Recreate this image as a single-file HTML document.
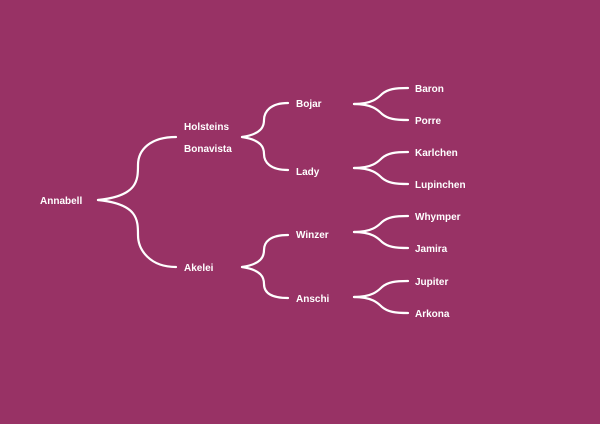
<!DOCTYPE html>
<html><head><meta charset="utf-8"><style>
html,body{margin:0;padding:0;background:#983265;}
svg{display:block}
text{font-family:"Liberation Sans",sans-serif;font-weight:bold;font-size:10px;fill:#fff;}
path{fill:none;stroke:#fff;stroke-width:2.2;stroke-linecap:round}
</style></head><body>
<svg width="600" height="424" viewBox="0 0 600 424" xmlns="http://www.w3.org/2000/svg">
<rect width="600" height="424" fill="#983265"/>
<!-- level 1 -->
<path d="M98,200 C138,196 138,180 138,165 C138,150 150,137 176,137"/>
<path d="M98,200 C138,204 138,220 138,235 C138,250 150,267 176,267"/>
<!-- level 2 -->
<path d="M242,137 C262,134 264,126 264,120 C264,112 270,103 288,103"/>
<path d="M242,137 C262,140 264,148 264,154 C264,162 270,170 288,170"/>
<path d="M242,267 C262,264 264,256 264,250 C264,242 270,235 288,235"/>
<path d="M242,267 C262,270 264,278 264,284 C264,292 270,298 288,298"/>
<!-- level 3 -->
<path d="M354,104 C372,104 378,98 382,94 C388,89 395,88 408,88"/>
<path d="M354,104 C372,104 378,110 382,114 C388,119 395,120 408,120"/>
<path d="M354,168 C372,168 378,162 382,158 C388,153 395,152 408,152"/>
<path d="M354,168 C372,168 378,174 382,178 C388,183 395,184 408,184"/>
<path d="M354,232 C372,232 378,226 382,222 C388,217 395,216 408,216"/>
<path d="M354,232 C372,232 378,238 382,242 C388,247 395,248 408,248"/>
<path d="M354,297 C372,297 378,291 382,287 C388,282 395,281 408,281"/>
<path d="M354,297 C372,297 378,303 382,307 C388,312 395,313 408,313"/>
<text x="40" y="204">Annabell</text>
<text x="184" y="130">Holsteins</text>
<text x="184" y="152">Bonavista</text>
<text x="184" y="271">Akelei</text>
<text x="296" y="107">Bojar</text>
<text x="296" y="175">Lady</text>
<text x="296" y="238">Winzer</text>
<text x="296" y="302">Anschi</text>
<text x="415" y="92">Baron</text>
<text x="415" y="124">Porre</text>
<text x="415" y="156">Karlchen</text>
<text x="415" y="188">Lupinchen</text>
<text x="415" y="220">Whymper</text>
<text x="415" y="252">Jamira</text>
<text x="415" y="285">Jupiter</text>
<text x="415" y="317">Arkona</text>
</svg>
</body></html>
